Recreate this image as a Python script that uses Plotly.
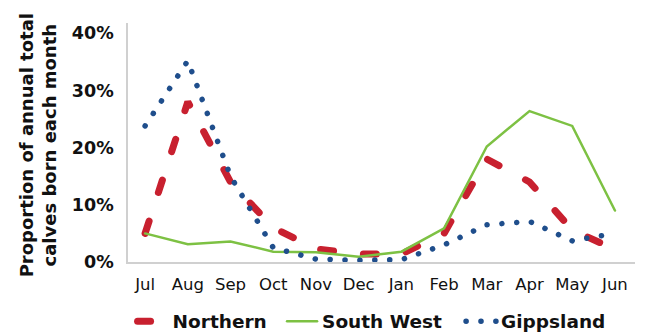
import plotly.graph_objects as go

# Calving distribution by region, share of annual total per month
months = ["Jul", "Aug", "Sep", "Oct", "Nov", "Dec", "Jan", "Feb", "Mar", "Apr", "May", "Jun"]
northern = [5.0, 28.0, 14.0, 6.0, 2.3, 1.4, 1.4, 5.0, 18.0, 14.0, 5.6, 2.2]
south_west = [5.0, 3.1, 3.6, 1.8, 1.7, 0.9, 1.8, 5.9, 20.2, 26.4, 23.8, 9.0]
gippsland = [23.8, 35.2, 15.0, 2.5, 0.5, 0.3, 0.4, 3.0, 6.5, 7.1, 3.7, 5.0]

y_ticks = [0, 10, 20, 30, 40]
y_tick_text = ["0%", "10%", "20%", "30%", "40%"]

RED = "#C8202F"
GREEN = "#7DC143"
BLUE = "#1F4E8C"
FONT = "DejaVu Sans"
INK = "#111111"

fig = go.Figure()
fig.add_trace(go.Scatter(
    x=months, y=northern, name="Northern", mode="lines", legend="legend",
    line=dict(color=RED, width=7, dash="13px,30px"),
))
fig.add_trace(go.Scatter(
    x=months, y=south_west, name="South West", mode="lines", legend="legend2",
    line=dict(color=GREEN, width=2.5),
))
fig.add_trace(go.Scatter(
    x=months, y=gippsland, name="Gippsland", mode="lines", legend="legend3",
    line=dict(color=BLUE, width=5.5, dash="0.1px,14.8px"),
))


def legend_at(x):
    # one single-entry legend per series, laid out in a row under the axis
    return dict(
        orientation="h", x=x, xanchor="left", y=-0.25, yanchor="middle",
        font=dict(size=18.5, family=FONT, weight="bold", color=INK),
        itemwidth=30, bgcolor="rgba(0,0,0,0)",
    )


fig.update_layout(
    width=645, height=333,
    margin=dict(l=128, r=10, t=23, b=71, autoexpand=False),
    paper_bgcolor="white", plot_bgcolor="white",
    font=dict(family=FONT, color=INK),
    showlegend=True,
    legend=legend_at(0.009),
    legend2=legend_at(0.3039),
    legend3=legend_at(0.6569),
    xaxis=dict(
        type="category", range=[-0.4, 11.47], automargin=False,
        showline=True, linecolor="#d0d0d0", linewidth=1.5,
        showgrid=False, ticks="", ticklabelstandoff=6,
        tickfont=dict(size=16.5, family=FONT, color=INK),
        zeroline=False,
    ),
    yaxis=dict(
        range=[0, 41.8], automargin=False,
        tickvals=y_ticks, ticktext=y_tick_text,
        showline=True, linecolor="#d0d0d0", linewidth=1.5,
        showgrid=False, ticks="", ticklabelstandoff=9,
        tickfont=dict(size=17.5, family=FONT, weight="bold", color=INK),
        zeroline=False,
    ),
    annotations=[dict(
        text="Proportion of annual total<br>calves born each month",
        xref="paper", yref="paper", x=-0.1785, y=0.486,
        xanchor="center", yanchor="middle", textangle=-90,
        showarrow=False, align="center",
        font=dict(size=18, family=FONT, weight="bold", color=INK),
    )],
)

# Round line caps so dashes are rounded and the dotted line shows circular dots
round_caps = """
var gd = document.getElementById('{plot_id}');
gd.querySelectorAll('path.js-line').forEach(function(p){
    p.style.strokeLinecap = 'round';
});
"""

fig.write_html("out.html", post_script=round_caps)
